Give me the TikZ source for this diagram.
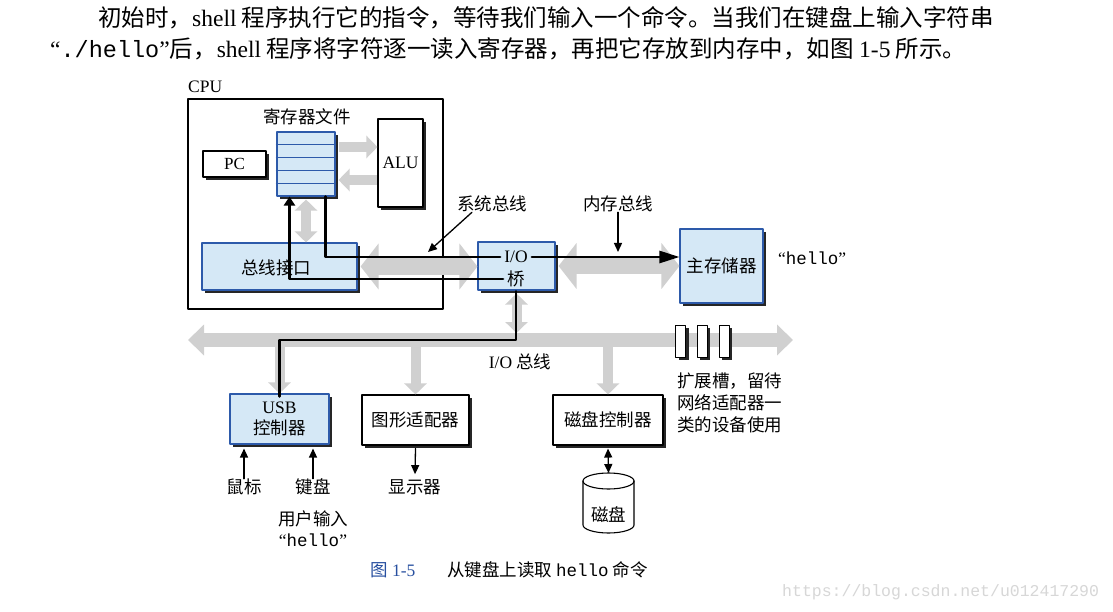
\documentclass[tikz,border=0pt]{standalone}
\usepackage{fontspec}
\setmainfont{Liberation Serif}
\setmonofont{Liberation Mono}
\newfontfamily\cjk{Noto Sans CJK SC}
\usetikzlibrary{arrows.meta,shadows,calc}

\definecolor{boxfill}{RGB}{213,232,246}
\definecolor{boxblue}{RGB}{45,90,170}
\definecolor{busgray}{RGB}{208,208,208}
\definecolor{capblue}{RGB}{40,80,160}
\definecolor{markgray}{RGB}{215,215,215}

\begin{document}
\begin{tikzpicture}[
				x=1pt, y=-1pt,
				every node/.style={font=\cjk\fontsize{17.5}{21}\selectfont, inner sep=0pt},
				line cap=round,
				line join=round,
				boxshadow/.style={drop shadow={shadow xshift=3pt, shadow yshift=-3pt, fill=black!85, opacity=1}},
				bluebox/.style={draw=boxblue, line width=1.1pt, fill=boxfill, boxshadow},
				whitebox/.style={draw=black, line width=1.1pt, fill=white, boxshadow},
				fatbus/.style={draw=busgray, line cap=butt, line width=17pt, >={Triangle[length=18pt,width=45pt]}, <->},
				iobus/.style={draw=busgray, line cap=butt, line width=14pt, >={Triangle[length=16pt,width=30pt]}, <->},
				thinbus/.style={draw=busgray, line cap=butt, line width=10pt, >={Triangle[length=11pt,width=22pt]}},
				dataline/.style={line width=2.6pt},
				thinarrow/.style={line width=1.3pt, -{Triangle[length=9pt,width=8pt]}},
				thinboth/.style={line width=1.3pt, {Triangle[length=9pt,width=8pt]}-{Triangle[length=9pt,width=8pt]}}
				]
				
				\useasboundingbox (0,0) rectangle (1113,612);
				\fill[white] (0,0) rectangle (1113,612);
				
				% Text above the figure
				\node[anchor=west, font=\cjk\fontsize{23.5}{27}\selectfont] (intro1) at (98,18)
				{初始时，\textrm{shell} 程序执行它的指令，等待我们输入一个命令。当我们在键盘上输入字符串};
				\node[anchor=west, font=\cjk\fontsize{23.5}{27}\selectfont] (intro2) at (50,49)
				{\textrm{“}\texttt{./hello}\textrm{”}后，\textrm{shell} 程序将字符逐一读入寄存器，再把它存放到内存中，如图 \textrm{1-5} 所示。};
				
				% CPU
				\node[anchor=west, font=\rmfamily\fontsize{17.5}{20}\selectfont] (cpulabel) at (188,87) {CPU};
				\node[draw, line width=2pt, minimum width=255pt, minimum height=210pt] (cpu) at (315.5,204) {};
				
				\node[bluebox, minimum width=58pt, minimum height=64pt] (regs) at (306,164) {};
				\foreach \k in {1,...,4}
				{
					\draw[boxblue, line width=1.2pt] ($(regs.north west)!\k/5!(regs.south west)$) -- ($(regs.north east)!\k/5!(regs.south east)$);
				}
				\node (regslabel) at (307,117) {寄存器文件};
				
				\node[whitebox, minimum width=63pt, minimum height=26pt, font=\rmfamily\fontsize{17}{19}\selectfont] (pc) at (234.5,164) {PC};
				\node[whitebox, minimum width=45pt, minimum height=88pt, font=\rmfamily\fontsize{17.5}{20}\selectfont] (alu) at (400.5,163) {ALU};
				\node[bluebox, minimum width=155pt, minimum height=47pt] (bif) at (279.5,266.5) {};
				\node (biflabel) at (276,268) {总线接口};
				
				% I/O bridge and memory
				\node[bluebox, minimum width=77pt, minimum height=48pt] (bridge) at (516.5,266) {};
				\node[inner sep=4pt, font=\rmfamily\fontsize{17.5}{20}\selectfont] (bridgeio) at (516,257) {I/O};
				\node[inner sep=4pt] (bridgeq) at (516,279) {桥};
				
				\node[bluebox, minimum width=83pt, minimum height=74pt] (mem) at (721.5,266) {主存储器};
				\node[anchor=west, font=\ttfamily\fontsize{17.5}{20}\selectfont] (memhello) at (778,258) {\textrm{“}hello\textrm{”}};
				
				\node (syslabel) at (492,204) {系统总线};
				\node (memlabel) at (618,204) {内存总线};
				\coordinate (systip) at (428,252);
				\coordinate (memtip) at (618,252);
				
				% Devices
				\node[bluebox, minimum width=99pt, minimum height=50pt, align=center] (usb) at (279.5,419) {\textrm{USB}\\控制器};
				\node[whitebox, minimum width=107pt, minimum height=50pt] (gfx) at (415.5,420) {图形适配器};
				\node[whitebox, minimum width=110pt, minimum height=50pt] (diskctl) at (608,420) {磁盘控制器};
				
				\node (mouse) at (244,487) {鼠标};
				\node (kbd) at (313,487) {键盘};
				\node (userin) at (313,519) {用户输入};
				\node (userhello) at (313,540) {\textrm{“}\texttt{hello}\textrm{”}};
				\node (display) at (415,487) {显示器};
				\node (iobuslabel) at (520,362) {\textrm{I/O} 总线};
				\node[anchor=north west, align=left, font=\cjk\fontsize{17.5}{22}\selectfont] (slotnote) at (677,373) {扩展槽，留待\\网络适配器一\\类的设备使用};
				
				% Disk
				\draw[line width=1.1pt, fill=white] (583,481) -- (583,525) arc[start angle=180, end angle=0, x radius=25.5, y radius=8] -- (634,481);
				\draw[line width=1.1pt] (608.5,481) ellipse [x radius=25.5, y radius=8];
				\coordinate (disktop) at (608.5,473);
				\node (disklabel) at (608.5,515) {磁盘};
				
				% Gray buses
				\draw[thinbus, ->] ([shift={(3pt,17pt)}]regs.east) -- ($(alu.west |- regs.east)+(0,-17)$);
				\draw[thinbus, <-] ([shift={(3pt,-16pt)}]regs.east) -- ($(alu.west |- regs.east)+(0,16)$);
				\draw[thinbus, <->] ([yshift=-3pt]regs.south) -- (bif.north -| regs.south);
				\draw[fatbus] ([xshift=3pt]bif.east) -- (bridge.west |- bif.east);
				\draw[fatbus] ([xshift=3pt]bridge.east) -- (mem.west |- bridge.east);
				
				\coordinate (iobusw) at (188,340);
				\coordinate (iobuse) at (793,340);
				\draw[thinbus, <->] ([yshift=-3pt]bridge.south) -- ($(bridge.south |- iobusw)+(0,-7)$);
				\draw[iobus] (iobusw) -- (iobuse);
				\draw[thinbus, ->] ($(usb.north |- iobusw)+(0,7)$) -- (usb.north);
				\draw[thinbus, ->] ($(gfx.north |- iobusw)+(0,7)$) -- (gfx.north);
				\draw[thinbus, ->] ($(diskctl.north |- iobusw)+(0,7)$) -- (diskctl.north);
				
				% Expansion slots
				\foreach \sx [count=\i] in {680.5,702,724}
				{
					\node[whitebox, line width=1pt, minimum width=10pt, minimum height=32pt] (slot\i) at (\sx,341) {};
				}
				
				% Data path of the characters
				\draw[dataline] ([xshift=-10pt]regs.south east) |- (bridgeio.west);
				\draw[dataline, -{Triangle[length=20pt,width=12pt]}] (bridgeio.east) -- (bridgeio.east -| mem.west);
				\draw[dataline, -{Triangle[length=9pt,width=11pt]}] (bridgeq.west) -| ([xshift=13pt]regs.south west);
				\draw[dataline] (bridgeq.south) |- (usb.north |- iobusw) -- ([yshift=-3pt]usb.north);
				
				% Small arrows
				\draw[thinarrow] ([xshift=-20pt]syslabel.south) -- (systip);
				\draw[thinarrow] (memlabel.south) -- (memtip);
				\draw[thinarrow] (mouse.north) -- ($(mouse.north |- usb.south)+(0,4)$);
				\draw[thinarrow] (kbd.north) -- ($(kbd.north |- usb.south)+(0,4)$);
				\draw[thinarrow] ([yshift=-3pt]gfx.south) -- ([yshift=5pt]display.north);
				\draw[thinboth] ([yshift=-3pt]diskctl.south) -- (disktop);
				
				% Caption and mark
				\node[anchor=west, text=capblue, font=\rmfamily\fontsize{17.5}{20}\selectfont] (figno) at (370,570) {{\cjk 图} 1-5};
				\node[anchor=west] (figcap) at (447,570) {从键盘上读取 \texttt{hello} 命令};
				\node[anchor=west, text=markgray, font=\ttfamily\fontsize{16.5}{20}\selectfont] (wmark) at (782,592) {https://blog.csdn.net/u012417290};
				
\end{tikzpicture}
\end{document}
